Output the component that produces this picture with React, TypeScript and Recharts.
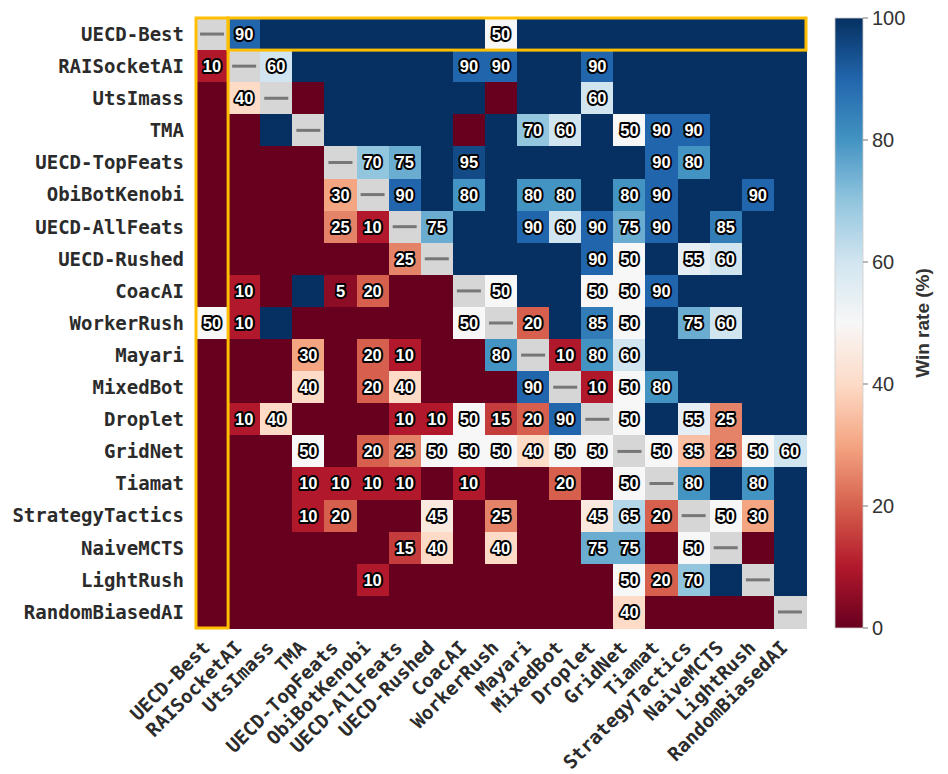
import React from "react";
import { ScatterChart, Scatter, XAxis, YAxis } from "recharts";

// bots in play order (rows = player, columns = opponent)
const BOTS = [
  "UECD-Best",
  "RAISocketAI",
  "UtsImass",
  "TMA",
  "UECD-TopFeats",
  "ObiBotKenobi",
  "UECD-AllFeats",
  "UECD-Rushed",
  "CoacAI",
  "WorkerRush",
  "Mayari",
  "MixedBot",
  "Droplet",
  "GridNet",
  "Tiamat",
  "StrategyTactics",
  "NaiveMCTS",
  "LightRush",
  "RandomBiasedAI",
];

// win rate (%) of row bot vs column bot, null on the diagonal
const WIN_RATES: (number | null)[][] = [
  [null, 90, 100, 100, 100, 100, 100, 100, 100, 50, 100, 100, 100, 100, 100, 100, 100, 100, 100],
  [10, null, 60, 100, 100, 100, 100, 100, 90, 90, 100, 100, 90, 100, 100, 100, 100, 100, 100],
  [0, 40, null, 0, 100, 100, 100, 100, 100, 0, 100, 100, 60, 100, 100, 100, 100, 100, 100],
  [0, 0, 100, null, 100, 100, 100, 100, 0, 100, 70, 60, 100, 50, 90, 90, 100, 100, 100],
  [0, 0, 0, 0, null, 70, 75, 100, 95, 100, 100, 100, 100, 100, 90, 80, 100, 100, 100],
  [0, 0, 0, 0, 30, null, 90, 100, 80, 100, 80, 80, 100, 80, 90, 100, 100, 90, 100],
  [0, 0, 0, 0, 25, 10, null, 75, 100, 100, 90, 60, 90, 75, 90, 100, 85, 100, 100],
  [0, 0, 0, 0, 0, 0, 25, null, 100, 100, 100, 100, 90, 50, 100, 55, 60, 100, 100],
  [0, 10, 0, 100, 5, 20, 0, 0, null, 50, 100, 100, 50, 50, 90, 100, 100, 100, 100],
  [50, 10, 100, 0, 0, 0, 0, 0, 50, null, 20, 100, 85, 50, 100, 75, 60, 100, 100],
  [0, 0, 0, 30, 0, 20, 10, 0, 0, 80, null, 10, 80, 60, 100, 100, 100, 100, 100],
  [0, 0, 0, 40, 0, 20, 40, 0, 0, 0, 90, null, 10, 50, 80, 100, 100, 100, 100],
  [0, 10, 40, 0, 0, 0, 10, 10, 50, 15, 20, 90, null, 50, 100, 55, 25, 100, 100],
  [0, 0, 0, 50, 0, 20, 25, 50, 50, 50, 40, 50, 50, null, 50, 35, 25, 50, 60],
  [0, 0, 0, 10, 10, 10, 10, 0, 10, 0, 0, 20, 0, 50, null, 80, 100, 80, 100],
  [0, 0, 0, 10, 20, 0, 0, 45, 0, 25, 0, 0, 45, 65, 20, null, 50, 30, 100],
  [0, 0, 0, 0, 0, 0, 15, 40, 0, 40, 0, 0, 75, 75, 0, 50, null, 0, 100],
  [0, 0, 0, 0, 0, 10, 0, 0, 0, 0, 0, 0, 0, 50, 20, 70, 100, null, 100],
  [0, 0, 0, 0, 0, 0, 0, 0, 0, 0, 0, 0, 0, 40, 0, 0, 0, 0, null],
];

// boxes drawn around UECD-Best's column and its row (in cell units)
const HIGHLIGHT_COLS = [[0, 0], [1, 18]];
const HIGHLIGHT_ROWS = [[0, 18], [0, 0]];

const CBAR_TICKS = [0, 20, 40, 60, 80, 100];

// RdBu colormap stops, 0 -> 100
const RDBU = [
  "#67001f", "#b2182b", "#d6604d", "#f4a582", "#fddbc7", "#f7f7f7",
  "#d1e5f0", "#92c5de", "#4393c3", "#2166ac", "#053061",
];

const W = 948;
const H = 774;
const MARGIN = { top: 18, right: 142, bottom: 0, left: 0 };
const Y_AXIS_W = 196;
const X_AXIS_H = 146;
const PLOT_W = W - MARGIN.left - MARGIN.right - Y_AXIS_W;
const PLOT_H = H - MARGIN.top - MARGIN.bottom - X_AXIS_H;
const N = BOTS.length;
const CELL_W = PLOT_W / N;
const CELL_H = PLOT_H / N;
const HIGHLIGHT = "#ffbf00";
const INDEX = BOTS.map((_, i) => i);

const hex = (h: string) => [1, 3, 5].map((k) => parseInt(h.slice(k, k + 2), 16));

function rdbu(v: number) {
  const t = Math.max(0, Math.min(1, v / 100)) * (RDBU.length - 1);
  const i = Math.min(Math.floor(t), RDBU.length - 2);
  const f = t - i;
  const a = hex(RDBU[i]);
  const b = hex(RDBU[i + 1]);
  const c = a.map((x, k) => Math.round(x + (b[k] - x) * f));
  return `rgb(${c[0]},${c[1]},${c[2]})`;
}

const cells = WIN_RATES.flatMap((row, r) =>
  row.map((v, c) => ({ x: c, y: r, v }))
);

// each box centred on its cell span so the axes place it
const boxes = HIGHLIGHT_COLS.map(([c0, c1], i) => {
  const [r0, r1] = HIGHLIGHT_ROWS[i];
  return { x: (c0 + c1) / 2, y: (r0 + r1) / 2, nc: c1 - c0 + 1, nr: r1 - r0 + 1 };
});

function Cell(props: any) {
  const { cx, cy, payload } = props;
  const v = payload.v as number | null;
  const x0 = cx - CELL_W / 2;
  const y0 = cy - CELL_H / 2;
  if (v === null) {
    return (
      <g>
        <rect x={x0} y={y0} width={CELL_W + 0.6} height={CELL_H + 0.6} fill="#d6d6d6" shapeRendering="crispEdges" />
        <line x1={cx - 12} x2={cx + 12} y1={cy} y2={cy} stroke="#777" strokeWidth={3} />
      </g>
    );
  }
  const labelled = v > 0 && v < 100;
  return (
    <g>
      <rect
        x={x0}
        y={y0}
        width={CELL_W + 0.6}
        height={CELL_H + 0.6}
        fill={rdbu(v)}
        shapeRendering="crispEdges"
      />
      {labelled && (
        <text
          x={cx}
          y={cy}
          dy="0.36em"
          textAnchor="middle"
          fontFamily="'Liberation Sans', Arial, sans-serif"
          fontWeight="bold"
          fontSize={16.5}
          fill="#fff"
          stroke="#000"
          strokeWidth={4}
          strokeLinejoin="round"
          paintOrder="stroke"
        >
          {v}
        </text>
      )}
    </g>
  );
}

function Box(props: any) {
  const { cx, cy, payload } = props;
  const w = payload.nc * CELL_W;
  const h = payload.nr * CELL_H;
  return (
    <rect
      x={cx - w / 2}
      y={cy - h / 2}
      width={w}
      height={h}
      fill="none"
      stroke={HIGHLIGHT}
      strokeWidth={3}
    />
  );
}

const LABEL_FONT = "'DejaVu Sans Mono', monospace";

function YTick({ x, y, payload }: any) {
  return (
    <text
      x={x}
      y={y}
      dy="0.36em"
      textAnchor="end"
      fontFamily={LABEL_FONT}
      fontWeight="bold"
      fontSize={19}
      fill="#2b2b2b"
    >
      {BOTS[payload.value]}
    </text>
  );
}

function XTick({ x, y, payload }: any) {
  const ax = x - 11;
  const ay = y + 3;
  return (
    <text
      x={ax}
      y={ay}
      dy="0.74em"
      textAnchor="end"
      transform={`rotate(-45, ${ax}, ${ay})`}
      fontFamily={LABEL_FONT}
      fontWeight="bold"
      fontSize={19}
      fill="#2b2b2b"
    >
      {BOTS[payload.value]}
    </text>
  );
}

function ColorBar() {
  const left = 835;
  const top = MARGIN.top;
  const w = 28;
  const h = PLOT_H;
  return (
    <svg width={W} height={H} style={{ position: "absolute", left: 0, top: 0, pointerEvents: "none" }}>
      <defs>
        <linearGradient id="rdbu" x1="0" y1="1" x2="0" y2="0">
          {RDBU.map((c, i) => (
            <stop key={i} offset={i / (RDBU.length - 1)} stopColor={c} />
          ))}
        </linearGradient>
      </defs>
      <rect x={left} y={top} width={w} height={h} fill="url(#rdbu)" stroke="#ccc" strokeWidth={0.8} />
      {CBAR_TICKS.map((t) => {
        const ty = top + h - (t / 100) * h;
        return (
          <g key={t}>
            <line x1={left + w} x2={left + w + 5} y1={ty} y2={ty} stroke="#777" strokeWidth={1} />
            <text
              x={left + w + 9}
              y={ty}
              dy="0.36em"
              fontFamily="'Liberation Sans', Arial, sans-serif"
              fontSize={20}
              fill="#333"
            >
              {t}
            </text>
          </g>
        );
      })}
      <text
        x={929}
        y={top + h / 2}
        textAnchor="middle"
        transform={`rotate(-90, 929, ${top + h / 2})`}
        fontFamily="'Liberation Sans', Arial, sans-serif"
        fontWeight="bold"
        fontSize={19}
        fill="#333"
      >
        Win rate (%)
      </text>
    </svg>
  );
}

export default function App() {
  return (
    <div style={{ position: "absolute", left: 0, top: 0, width: W, height: H, background: "#fff" }}>
      <ScatterChart width={W} height={H} margin={MARGIN}>
        <XAxis
          type="number"
          dataKey="x"
          domain={[-0.5, N - 0.5]}
          ticks={INDEX}
          interval={0}
          axisLine={false}
          tickLine={false}
          tickSize={0}
          tickMargin={8}
          height={X_AXIS_H}
          tick={<XTick />}
        />
        <YAxis
          type="number"
          dataKey="y"
          domain={[-0.5, N - 0.5]}
          reversed
          ticks={INDEX}
          interval={0}
          axisLine={false}
          tickLine={false}
          tickSize={0}
          tickMargin={12}
          width={Y_AXIS_W}
          tick={<YTick />}
        />
        <Scatter data={cells} shape={<Cell />} isAnimationActive={false} />
        <Scatter data={boxes} shape={<Box />} isAnimationActive={false} />
      </ScatterChart>
      <ColorBar />
    </div>
  );
}
